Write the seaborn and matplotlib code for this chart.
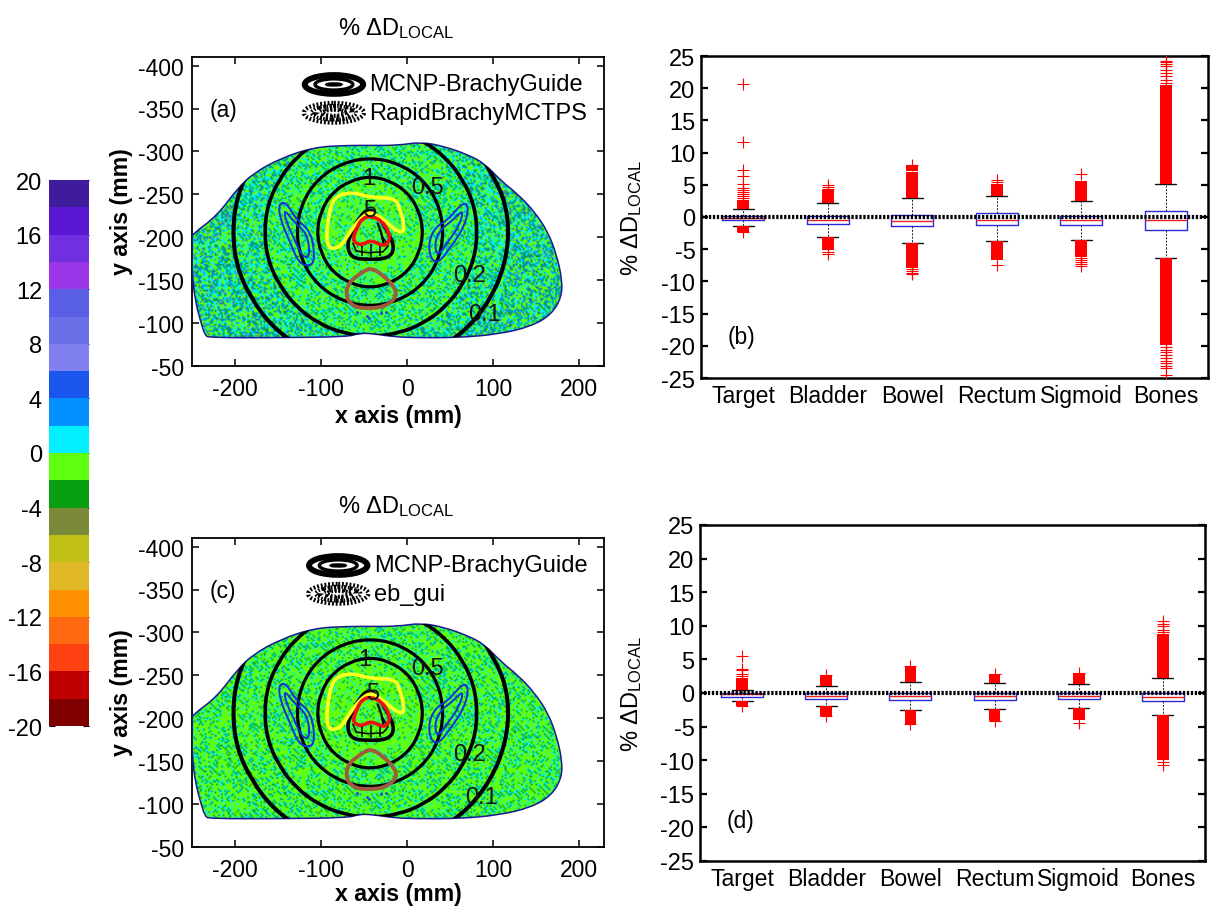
"""Local dose difference maps and organ box plots for two brachytherapy TPS comparisons."""

import matplotlib

matplotlib.use("Agg")

import matplotlib.pyplot as plt
import numpy as np
import pandas as pd
import seaborn as sns
from matplotlib.colors import BoundaryNorm, ListedColormap
from matplotlib.patches import Ellipse, PathPatch
from matplotlib.path import Path

FIG_W, FIG_H = 1221, 912

# colour scale, top (+20) to bottom (-20)
scale_colors = [
    "#3f1c9c", "#5a18d2", "#7030e0", "#9b35e8", "#5a60e6", "#6c70e8", "#8080f0",
    "#1a55ee", "#0090ff", "#00f0ff", "#60ff10", "#08a010", "#7a8a38", "#bfbf18",
    "#e0b828", "#ff9000", "#ff6a10", "#ff4010", "#c00000", "#800000",
]
scale_labels = ["20", "16", "12", "8", "4", "0", "-4", "-8", "-12", "-16", "-20"]

# outlines, in mm
body_x = [-249, -221, -197, -178, -147, -108, -69, -42, -11, 16, 43, 71, 90, 109, 129, 148,
          164, 174, 180, 180, 168, 144, 106, 59, 9, -15, -42, -56, -69, -147, -230, -235, -240, -246, -250, -250]
body_y = [-204, -225, -257, -275, -292, -305, -307, -307, -307, -311, -306, -296, -286, -266, -250, -230,
          -206, -179, -152, -131, -110, -96, -87, -83, -83, -84, -88, -88, -84, -83, -83, -86, -102, -125, -156, -200]

iso_1_x = [19, 14, 1, -20, -43, -66, -87, -100, -105, -100, -87, -66, -43, -20, 1, 14, 19]
iso_1_y = [-206, -231, -252, -266, -271, -266, -252, -231, -206, -181, -160, -146, -141, -146, -160, -181, -206]
iso_05_x = [43, 36.5, 18, -10.5, -43, -75.5, -104, -122.5, -129, -122.5, -104, -75.5, -43, -10.5, 18, 36.5, 43]
iso_05_y = [-206, -240, -268, -286.5, -293, -286.5, -268, -240, -206, -172, -144, -125.5, -119, -125.5, -144, -172, -206]
iso_02_x = [82, 78, 65, 46, 20, -10, -42, -74, -104, -130, -149, -162, -166,
            -162, -149, -130, -104, -74, -42, -10, 20, 46, 65, 78, 82]
iso_02_y = [-206, -238, -267, -292, -312, -324, -328, -324, -312, -292, -267, -238, -206,
            -174, -145, -120, -100, -88, -84, -88, -100, -120, -145, -174, -206]
iso_01_x = [119, 113, 92, 72, 38, 0, -42, -84, -122, -156, -181, -198, -203,
            -198, -181, -156, -122, -84, -42, 0, 38, 72, 97, 113, 119]
iso_01_y = [-206, -247, -285, -317, -342, -358, -363, -358, -342, -317, -285, -247, -206,
            -165, -128, -95, -70, -54, -49, -54, -70, -95, -128, -165, -206]
iso_hi_x = [-70, -65, -46, -22, -14, -22, -33, -44, -55, -64, -70]
iso_hi_y = [-191, -176, -174, -175, -187, -206, -224, -234, -224, -207, -191]
iso_in_x = [-63, -59, -46, -28, -22, -28]
iso_in_y = [-193, -184, -182, -183, -190, -200]
rib_x = [-52, -42, -32]
rib_top = [-192, -192, -192]
rib_bottom = [-178, -177, -178]
inner_arc_x = [-34, -30, -27]
inner_arc_y = [-216, -205, -192]

target_x = [-85, -65, -42, -15, -8, -2, -11, -24, -34, -44, -58, -69, -77, -90, -94, -91, -85]
target_y = [-247, -253, -246, -246, -234, -207, -206, -218, -225, -230, -218, -202, -189, -186, -198, -226, -247]
bladder_x = [-63, -58, -52, -42, -29, -21, -20, -27, -42, -51.7, -60, -63]
bladder_y = [-198, -212, -222, -225, -219, -206, -196, -189, -197, -191, -193, -198]
rectum_x = [-42.7, -28, -13, -13, -26, -45.8, -62, -71, -69, -55.5, -42.7]
rectum_y = [-165, -156, -140.4, -129, -119, -117, -119, -129.7, -146, -157, -165]

bone_l_x = [-149, -140, -129.4, -111, -107, -113.8, -126, -136, -148, -149]
bone_l_y = [-240, -240, -221.5, -206, -173, -166, -170, -194.4, -222, -240]
bone_li_x = [-143, -131.3, -115.8, -112.7, -121.6, -131.3, -141, -143]
bone_li_y = [-233, -217.6, -204, -177, -177, -198.3, -219.6, -233]
bone_r_x = [65, 72, 67, 52, 36, 27, 25, 33, 47.4, 65]
bone_r_y = [-241, -236, -213, -190, -169, -176, -194.4, -212, -220, -241]
bone_ri_x = [66, 61, 47.4, 35, 31.9, 39.6, 53.2, 66]
bone_ri_y = [-233, -213.8, -194.4, -177, -194.4, -210, -219.6, -233]
speck_x = [-58, -46, -44, -30, -24]
speck_y = [-113, -108, -106, -112, -113]

iso_labels = ["1", "0.5", "5", "0.2", "0.1"]
iso_label_x_a = [-44, 24, -43, 73, 90]
iso_label_y_a = [-269, -259, -232, -156, -111]
iso_label_x_c = [-49, 24, -40, 73, 87]
iso_label_y_c = [-269, -258, -229, -158, -108]

# speckle of the difference map, estimated by eye (%)
speckle_1 = [
    [1.0, -0.5, 1.5, -1.0, 0.0, 0.5, -1.5],
    [-1.0, 0.5, -0.5, 1.0, -1.5, 1.5, 0.0],
    [0.5, -1.5, 0.0, 1.5, 0.5, -1.0, 1.0],
    [-0.5, 1.0, -1.0, -0.5, 1.5, 0.0, -1.5],
    [1.5, 0.0, 0.5, -1.5, -1.0, 1.0, 0.5],
    [-1.5, 1.0, -0.5, 0.5, 1.0, -0.5, 0.0],
    [0.0, -1.0, 1.5, 0.5, -1.5, 0.5, -0.5],
    [1.0, 0.5, -1.5, 0.0, 1.0, -1.0, 1.5],
    [-0.5, -1.5, 1.0, -1.0, 0.5, 1.5, -0.5],
    [0.5, 1.5, 0.0, 1.0, -0.5, -1.5, 1.0],
    [-1.0, 0.0, -1.5, 0.5, 1.5, 0.5, -1.0],
    [1.5, -0.5, 0.5, -1.0, 0.0, 1.0, -0.5],
    [0.0, 1.0, -1.0, 1.5, -0.5, -1.5, 0.5],
]
speckle_2 = [
    [0.5, -1.0, 0.0, 1.5, -0.5, 1.0, -1.5, 0.5, 1.5, -1.0, 0.0, -0.5, 1.0, -1.5, 0.5, 1.5, -0.5],
    [-1.5, 1.0, 0.5, -0.5, 1.5, -1.0, 0.0, -1.5, 0.5, 1.0, -0.5, 1.5, 0.0, 0.5, -1.0, -0.5, 1.0],
    [1.0, 0.0, -1.5, 1.0, -1.0, 0.5, 1.5, -0.5, 0.0, -1.5, 1.5, 0.5, -1.0, 1.0, 0.0, -1.5, 0.5],
    [-0.5, 1.5, 1.0, -1.5, 0.0, -0.5, 1.0, 0.5, -1.0, 1.5, 0.0, -1.0, 0.5, -0.5, 1.5, 1.0, -1.5],
    [0.0, -0.5, -1.0, 0.5, 1.5, 1.0, -1.5, 1.0, -0.5, 0.5, -1.5, 1.0, 1.5, 0.0, -1.0, 0.5, 0.0],
    [1.5, 0.5, 1.0, 0.0, -1.0, -1.5, 0.5, -0.5, 1.5, 0.0, 1.0, -0.5, -1.5, 1.0, 0.5, -1.0, 1.5],
    [-1.0, 1.0, -0.5, 1.5, 0.5, 0.0, -1.0, 1.5, 1.0, -0.5, 0.5, -1.5, 0.0, 1.5, -0.5, 0.5, -1.0],
]

# offset and spread of the speckle from the outer zone to the innermost one
zone_offset_a = [-0.1, -0.2, -0.6, -0.9]
zone_spread_a = [1.45, 1.25, 0.95, 0.7]
zone_offset_c = [-1.0, -1.0, -1.0, -1.0]
zone_spread_c = [0.95, 0.85, 0.7, 0.55]

# box plots
organs = ["Target", "Bladder", "Bowel", "Rectum", "Sigmoid", "Bones"]

b_whisk_lo = [-1.4, -3.1, -4.1, -3.8, -3.6, -6.3]
b_q1 = [-0.4, -1.15, -1.45, -1.2, -1.3, -2.0]
b_median = [-0.1, -0.5, -0.55, -0.4, -0.5, -0.5]
b_q3 = [0.2, 0.1, 0.3, 0.6, 0.2, 0.9]
b_whisk_hi = [1.3, 2.1, 3.0, 3.2, 2.5, 5.2]
b_band_pos = [0, 1, 2, 2, 3, 4, 5, 0, 1, 2, 3, 4, 5]
b_band_lo = [1.3, 2.1, 3.0, 7.2, 3.2, 2.5, 5.2, -2.3, -5.2, -7.9, -6.6, -6.2, -19.8]
b_band_hi = [2.6, 4.2, 7.0, 8.0, 5.2, 5.6, 20.5, -1.4, -3.1, -4.1, -3.8, -3.6, -6.3]
b_fliers = [
    [20.6, 11.7, 7.3, 6.4, 5.2, 4.5, 4.2, 3.9, 3.5, 3.2, 2.9, -2.3],
    [4.4, 4.7, 4.9, -5.5, -5.7],
    [8.0, -8.1, -8.4, -8.7, -8.9],
    [5.5, 5.7, -7.5],
    [6.6, -6.4, -6.7, -7.0, -7.3, -7.6],
    [20.8, 21.3, 21.9, 22.4, 22.9, 23.4, 23.8, 24.0, 24.3,
     -20.2, -20.6, -21.0, -21.5, -21.9, -22.3, -22.7, -23.1, -23.4, -24.6],
]

d_whisk_lo = [-1.2, -2.0, -2.5, -2.45, -2.2, -3.3]
d_q1 = [-0.6, -0.85, -1.0, -1.0, -0.95, -1.25]
d_median = [-0.2, -0.4, -0.45, -0.45, -0.45, -0.6]
d_q3 = [0.0, 0.0, 0.05, 0.0, 0.0, 0.0]
d_whisk_hi = [0.45, 1.1, 1.65, 1.5, 1.4, 2.25]
d_band_pos = [0, 1, 2, 3, 4, 5, 0, 1, 2, 3, 4, 5]
d_band_lo = [0.45, 1.1, 1.65, 1.5, 1.4, 2.25, -1.9, -3.4, -4.6, -4.1, -4.0, -10.0]
d_band_hi = [2.2, 2.7, 4.0, 2.9, 2.95, 8.8, -1.2, -2.0, -2.5, -2.45, -2.2, -3.3]
d_fliers = [
    [5.5, 3.6, 3.4, 2.8, 2.6, -1.9],
    [2.7, -3.4],
    [4.0, -4.6],
    [2.9, -4.1],
    [2.95, -4.4],
    [10.7, 10.2, 9.9, 9.4, 9.1, -10.3, -10.7],
]

value_ticks = [25, 20, 15, 10, 5, 0, -5, -10, -15, -20, -25]
map_x_ticks = [-200, -100, 0, 100, 200]
map_y_ticks = [-400, -350, -300, -250, -200, -150, -100, -50]


def px_axes(fig, left, top, right, bottom):
    """Axes placed by its pixel edges, measured from the top left of the figure."""
    return fig.add_axes([left / FIG_W, 1 - bottom / FIG_H, (right - left) / FIG_W, (bottom - top) / FIG_H])


def px_text(fig, x, y, text, **kwargs):
    fig.text(x / FIG_W, 1 - y / FIG_H, text, ha="center", va="center", **kwargs)


def rounded_path(xs, ys):
    """Closed path with the read points as quadratic control points, so contours stay round."""
    pts = np.column_stack([xs, ys]).astype(float)
    if np.allclose(pts[0], pts[-1]):
        pts = pts[:-1]
    mids = (pts + np.roll(pts, -1, axis=0)) / 2
    verts = [mids[-1]]
    codes = [Path.MOVETO]
    for ctrl, mid in zip(pts, mids):
        verts += [ctrl, mid]
        codes += [Path.CURVE3, Path.CURVE3]
    return Path(verts, codes)


def speckle_field(xc, yc, offsets, spreads):
    """Difference map on a grid: typed speckle tiles, scaled per isodose zone."""
    ny, nx = len(yc), len(xc)
    tile_1 = np.tile(np.array(speckle_1), (ny // 13 + 1, nx // 7 + 1))[:ny, :nx]
    tile_2 = np.tile(np.array(speckle_2), (ny // 7 + 1, nx // 17 + 1))[:ny, :nx]
    gx, gy = np.meshgrid(xc, yc)
    pts = np.column_stack([gx.ravel(), gy.ravel()])
    zone = np.zeros(gx.size, dtype=int)
    for level, (ix, iy) in enumerate([(iso_01_x, iso_01_y), (iso_02_x, iso_02_y), (iso_1_x, iso_1_y)], start=1):
        zone[Path(np.column_stack([ix, iy])).contains_points(pts)] = level
    zone = zone.reshape(gx.shape)
    return np.array(offsets)[zone] + np.array(spreads)[zone] * (tile_1 + tile_2)


def draw_legend_icon(ax, cx, cy, dotted):
    if dotted:
        style = (0, (0.45, 0.45))
        rings = [(35, 11.5, 3.0), (26, 8, 2.6), (13, 3.5, 3.0)]
    else:
        style = "-"
        rings = [(34, 11, 4.2), (22, 6.5, 2.4), (8, 0.8, 2.2)]
    for rx, ry, lw in rings:
        ax.add_patch(Ellipse((cx, cy), 2 * rx, 2 * ry, fill=False, edgecolor="black", linewidth=lw, linestyle=style))
    if dotted:
        ax.add_patch(Ellipse((cx, cy), 40, 13, fill=False, edgecolor="black", linewidth=5, linestyle=(0, (0.3, 0.5))))


def draw_map(ax, offsets, spreads, names, icon_xy, label_xy, tag, tag_xy):
    cmap = ListedColormap(scale_colors[::-1])
    norm = BoundaryNorm(np.arange(-20, 21, 2), cmap.N)
    xc = np.arange(-252, 184, 1.9)
    yc = np.arange(-314, -80, 1.9)
    body = PathPatch(rounded_path(body_x, body_y), fill=False, edgecolor="#1a1a90", linewidth=1.1, zorder=3)
    ax.add_patch(body)
    field = speckle_field(xc, yc, offsets, spreads)
    im = ax.imshow(field, cmap=cmap, norm=norm, extent=[xc[0], xc[-1], yc[-1], yc[0]], aspect="auto",
                   interpolation="bilinear", interpolation_stage="rgba", zorder=1)
    im.set_clip_path(body)

    for ix, iy, lw in [(iso_01_x, iso_01_y, 2.9), (iso_02_x, iso_02_y, 2.6), (iso_05_x, iso_05_y, 2.3),
                       (iso_1_x, iso_1_y, 2.3), (iso_hi_x, iso_hi_y, 2.6)]:
        line = PathPatch(rounded_path(ix, iy), fill=False, edgecolor="black", linewidth=lw, zorder=4)
        ax.add_patch(line)
        line.set_clip_path(body)
    ax.plot(iso_in_x, iso_in_y, color="black", linewidth=1.1, zorder=4)
    ax.plot(inner_arc_x, inner_arc_y, color="black", linewidth=1.6, zorder=4)
    ax.vlines(rib_x, rib_top, rib_bottom, color="black", linewidth=1.1, zorder=4)
    for bx, by in [(bone_l_x, bone_l_y), (bone_li_x, bone_li_y), (bone_r_x, bone_r_y), (bone_ri_x, bone_ri_y)]:
        ax.add_patch(PathPatch(rounded_path(bx, by), fill=False, edgecolor="#1030d8", linewidth=1.4, zorder=5))
    ax.add_patch(PathPatch(rounded_path(target_x, target_y), fill=False, edgecolor="#ffff20", linewidth=2.6, zorder=5))
    ax.add_patch(PathPatch(rounded_path(bladder_x, bladder_y), fill=False, edgecolor="#ee1010", linewidth=2.6, zorder=6))
    ax.add_patch(PathPatch(rounded_path(rectum_x, rectum_y), fill=False, edgecolor="#a05a3c", linewidth=2.8, zorder=5))
    ax.scatter(speck_x, speck_y, s=4, color="#1f3fc8", linewidths=0, zorder=5)

    for text, lx, ly in zip(iso_labels, label_xy[0], label_xy[1]):
        ax.text(lx, ly, text, fontsize=17, color="#141414", ha="center", va="center", zorder=7)

    draw_legend_icon(ax, icon_xy[0], -378, False)
    draw_legend_icon(ax, icon_xy[0], -345, True)
    ax.text(icon_xy[1], -378, names[0], fontsize=17, ha="left", va="center")
    ax.text(icon_xy[1], -345, names[1], fontsize=17, ha="left", va="center")
    ax.text(tag_xy[0], tag_xy[1], tag, fontsize=16.5, ha="left", va="center")

    ax.set_xlim(-250, 229)
    ax.set_ylim(-50, -410)
    ax.set_xticks(map_x_ticks)
    ax.set_yticks(map_y_ticks)
    ax.tick_params(direction="in", length=5, width=1.1, top=True, right=True, labelsize=16.5)
    ax.tick_params(axis="x", pad=8)
    ax.tick_params(axis="y", pad=6)
    for spine in ax.spines.values():
        spine.set_linewidth(1.3)


def draw_box_panel(ax, whisk_lo, q1, median, q3, whisk_hi, band_pos, band_lo, band_hi, fliers, tag, tag_y):
    # five numbers per organ, so the box edges fall on the quartiles
    summary = pd.DataFrame(
        {"organ": organs * 5, "value": whisk_lo + q1 + median + q3 + whisk_hi}
    )
    sns.boxplot(
        data=summary, x="organ", y="value", order=organs, whis=(0, 100), width=0.5, fill=False,
        fliersize=0, linewidth=1.0, ax=ax,
        boxprops={"color": "#2a2ad8"},
        medianprops={"color": "#e82020"},
        whiskerprops={"color": "#202020", "linestyle": (0, (2, 1.5)), "linewidth": 0.7},
        capprops={"color": "#101010", "linewidth": 1.0},
    )
    ax.bar(band_pos, np.array(band_hi) - np.array(band_lo), bottom=band_lo, width=0.14, color="red", linewidth=0, zorder=3)
    flier_df = pd.DataFrame(
        {"pos": [i for i, vals in enumerate(fliers) for _ in vals], "value": [v for vals in fliers for v in vals]}
    )
    sns.scatterplot(data=flier_df, x="pos", y="value", marker="+", s=80, color="red", linewidth=0.8, ax=ax, zorder=3, legend=False)
    ax.axhline(0, color="black", linewidth=3.0, linestyle=(0, (0.55, 0.4)), zorder=4)

    ax.set_xlim(-0.5, 5.5)
    ax.set_ylim(-25, 25)
    ax.set_xticks(range(6))
    ax.set_xticklabels(organs)
    ax.set_yticks(value_ticks)
    ax.tick_params(axis="y", direction="in", length=5, width=1.6, right=True, labelsize=17, pad=4)
    ax.tick_params(axis="x", length=0, labelsize=16.6, pad=4)
    ax.set_xlabel("")
    ax.set_ylabel("")
    ax.text(-0.18, tag_y, tag, fontsize=16.5, ha="left", va="center")
    for spine in ax.spines.values():
        spine.set_linewidth(1.8)


def main():
    sns.set_theme(style="ticks", rc={"axes.edgecolor": "black", "text.color": "black",
                                     "xtick.color": "black", "ytick.color": "black"})
    plt.rcParams["font.family"] = ["Liberation Sans", "DejaVu Sans"]
    plt.rcParams["mathtext.fontset"] = "custom"
    plt.rcParams["mathtext.rm"] = "Liberation Sans"
    plt.rcParams["mathtext.default"] = "rm"
    plt.rcParams["axes.linewidth"] = 1.2
    plt.rcParams["axes.unicode_minus"] = False

    fig = plt.figure(figsize=(FIG_W / 100, FIG_H / 100), dpi=100)

    # shared colour scale
    cax = px_axes(fig, 49, 181, 89, 727)
    cells = [[v] for v in range(19, -21, -2)]
    sns.heatmap(cells, cmap=ListedColormap(scale_colors[::-1]), vmin=-20, vmax=20, cbar=False, ax=cax,
                xticklabels=False, yticklabels=False)
    cax.set_yticks(range(0, 21, 2))
    cax.set_yticklabels(scale_labels, rotation=0)
    cax.tick_params(axis="y", direction="in", length=4, width=0.8, left=True, right=True, labelsize=17, pad=5)

    ax_a = px_axes(fig, 192, 58, 604, 367)
    draw_map(ax_a, zone_offset_a, zone_spread_a, ["MCNP-BrachyGuide", "RapidBrachyMCTPS"],
             (-85, -44), (iso_label_x_a, iso_label_y_a), "(a)", (-230, -349))
    ax_c = px_axes(fig, 192, 539, 604, 848)
    draw_map(ax_c, zone_offset_c, zone_spread_c, ["MCNP-BrachyGuide", "eb_gui"],
             (-80, -38), (iso_label_x_c, iso_label_y_c), "(c)", (-230, -349))

    ax_b = px_axes(fig, 701, 57, 1208, 379)
    draw_box_panel(ax_b, b_whisk_lo, b_q1, b_median, b_q3, b_whisk_hi, b_band_pos, b_band_lo, b_band_hi, b_fliers, "(b)", -18.5)
    ax_d = px_axes(fig, 700, 526, 1205, 862)
    draw_box_panel(ax_d, d_whisk_lo, d_q1, d_median, d_q3, d_whisk_hi, d_band_pos, d_band_lo, d_band_hi, d_fliers, "(d)", -19)

    title = "% $\\Delta$D$_{\\mathrm{LOCAL}}$"
    px_text(fig, 396, 29, title, fontsize=17)
    px_text(fig, 396, 507, title, fontsize=17)
    px_text(fig, 632, 218, title, fontsize=17, rotation=90)
    px_text(fig, 632, 694, title, fontsize=17, rotation=90)
    for x, y, text, rotation in [(398, 417, "x axis (mm)", 0), (398, 895, "x axis (mm)", 0),
                                 (122, 212, "y axis (mm)", 90), (122, 693, "y axis (mm)", 90)]:
        px_text(fig, x, y, text, fontsize=16.7, fontweight="bold", rotation=rotation)

    fig.savefig("out.png", dpi=100)


if __name__ == "__main__":
    main()
